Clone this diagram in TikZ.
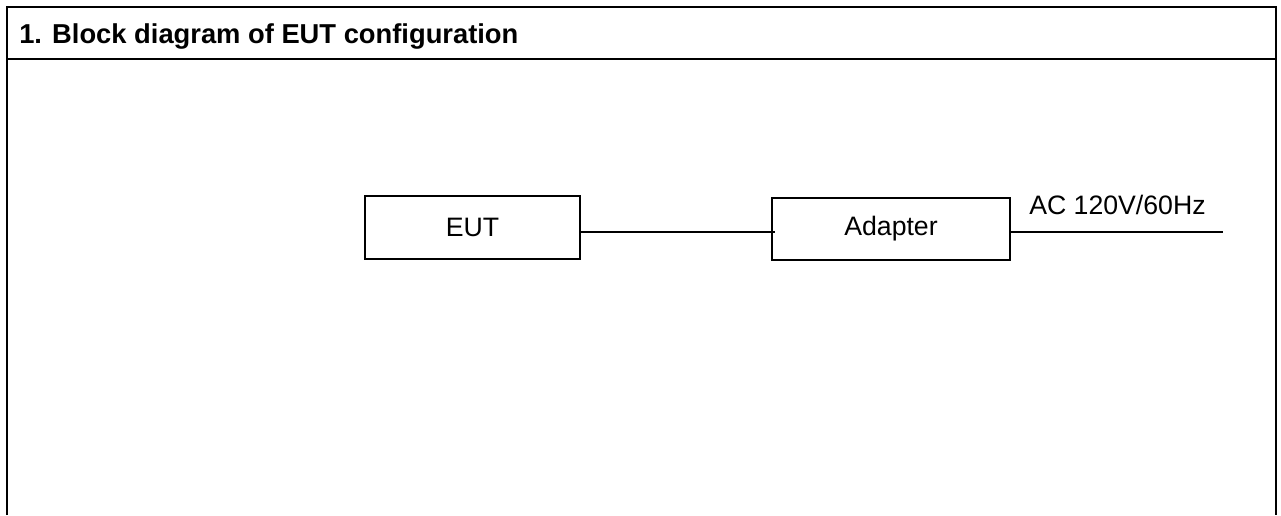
\documentclass[tikz,border=0pt]{standalone}
\usepackage{fontspec}
\setmainfont{Liberation Sans}

\begin{document}
\begin{tikzpicture}[x=0.75pt,y=-0.75pt]
\tikzstyle{block}=[rectangle,draw,line width=1.4pt,inner sep=0pt,font=\fontsize{20}{24}\selectfont]
\tikzstyle{wire}=[line width=1pt]
\tikzstyle{frame}=[line width=1.8pt]

\useasboundingbox (0,0) rectangle (1281,515);
\draw[frame] (7,515) -- (7,7) -- (1276,7) -- (1276,515);
\draw[frame] (7,59) -- (1276,59);

\node[anchor=base west,inner sep=0pt,font=\bfseries\fontsize{20.5}{24}\selectfont] (title) at (19,43) {1. Block diagram of EUT configuration};

\node[block,minimum width=161.25pt,minimum height=47.25pt] (eut) at (472.5,227.5) {EUT};
\node[block,minimum width=178.5pt,minimum height=46.5pt] (adapter) at (891,229) {Adapter};
\node[anchor=base west,inner sep=0pt,font=\fontsize{20}{24}\selectfont] (ac) at (1029,214) {AC 120V/60Hz};

\coordinate (tap) at (775,232);
\coordinate (mains) at (1223,232);
\draw[wire] (eut.east |- tap) -- (tap);
\draw[wire] (adapter.east |- mains) -- (mains);

\end{tikzpicture}
\end{document}
